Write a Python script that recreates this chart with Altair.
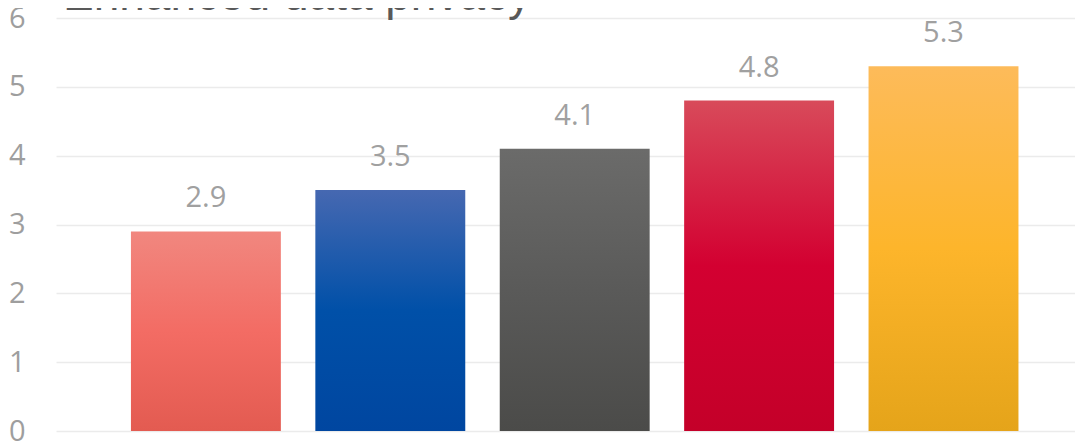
import altair as alt
import pandas as pd

categories = ["A", "B", "C", "D", "E"]
values = [2.9, 3.5, 4.1, 4.8, 5.3]
title_text = "Enhanced data privacy"
y_ticks = [0, 1, 2, 3, 4, 5, 6]

gradients = [
    ["#f1877f", "#f36c64", "#e35b51"],
    ["#4668b1", "#0050a8", "#0046a0"],
    ["#6b6b6a", "#5a5a59", "#4b4b49"],
    ["#d84a5a", "#d30031", "#c40029"],
    ["#fdbb5a", "#fdb52b", "#e5a41a"],
]

df = pd.DataFrame({"cat": categories, "val": values})

x_enc = alt.X("cat:N", sort=categories, axis=None,
              scale=alt.Scale(paddingInner=0.187, paddingOuter=0.3565, align=0.57))
y_enc = alt.Y("val:Q", scale=alt.Scale(domain=[0, 6], nice=False),
              axis=alt.Axis(values=y_ticks, title=None, domain=False, ticks=False,
                            labelFont="Open Sans", labelFontSize=29, labelColor="#9e9e9e",
                            labelPadding=31, gridColor="#ebebeb", gridWidth=1.5))

base = alt.Chart(df)
layers = []
for i, c in enumerate(categories):
    g = gradients[i]
    grad = alt.LinearGradient(
        gradient="linear", x1=0, y1=0, x2=0, y2=1,
        stops=[alt.GradientStop(color=g[0], offset=0),
               alt.GradientStop(color=g[1], offset=0.5),
               alt.GradientStop(color=g[2], offset=1)])
    layer = base.transform_filter(alt.datum.cat == c).mark_bar(color=grad).encode(
        x=x_enc, y=y_enc)
    layers.append(layer)

text = base.mark_text(font="Open Sans", fontSize=29, color="#a0a0a0", baseline="alphabetic",
                      dy=-24).encode(x=x_enc, y=y_enc, text=alt.Text("val:Q", format=".1f"))

title = alt.Chart(pd.DataFrame({"t": [title_text]})).mark_text(
    font="Liberation Sans", fontSize=46, color="#595959", align="left",
    baseline="alphabetic").encode(x=alt.value(7), y=alt.value(-8), text="t:N")

chart = alt.layer(*layers, text, title).properties(
    width=1019, height=413,
    autosize=alt.AutoSizeParams(type="none"),
    padding={"left": 48, "top": 10, "right": 0, "bottom": 11},
).configure_view(stroke=None)

chart.save("out.html", embed_options={"renderer": "svg", "actions": False})
